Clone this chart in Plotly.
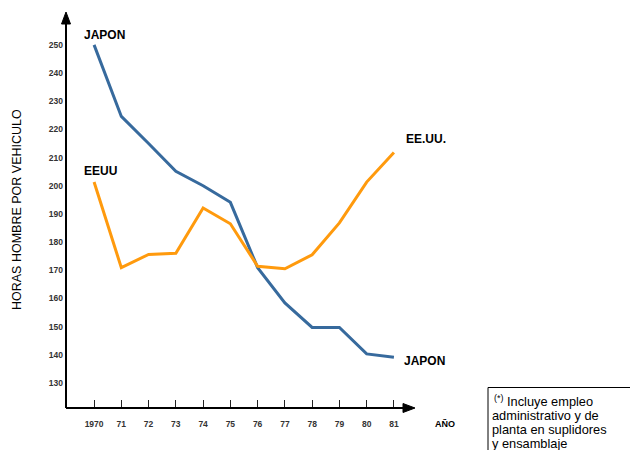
import plotly.graph_objects as go

years = [1970, 1971, 1972, 1973, 1974, 1975, 1976, 1977, 1978, 1979, 1980, 1981]
year_labels = ["1970", "71", "72", "73", "74", "75", "76", "77", "78", "79", "80", "81"]
japon = [250, 224.6, 215, 205.1, 200, 194.1, 170.9, 158.4, 149.7, 149.7, 140.3, 139.1]
eeuu = [201.3, 170.9, 175.6, 176, 192.1, 186.5, 171.4, 170.5, 175.5, 186.8, 201.3, 211.8]
y_ticks = [130, 140, 150, 160, 170, 180, 190, 200, 210, 220, 230, 240, 250]
note_lines = ["<sup>(*)</sup> Incluye empleo", "administrativo y de",
              "planta en suplidores", "y ensamblaje"]

FONT = "Liberation Sans, Arial, sans-serif"
X0, X1 = 1968.97, 1981.7
Y0, Y1 = 121.1, 260.6

# plot area geometry (pixels)
L, R, T, B = 66, 217, 15, 42
W, H = 630, 450
PW, PH = W - L - R, H - T - B


def px(x):
    return (x - L) / PW


def py(y):
    return 1 - (y - T) / PH


fig = go.Figure()
fig.add_trace(go.Scatter(x=years, y=japon, mode="lines", name="JAPON",
                         line=dict(color="#376a9d", width=3), showlegend=False))
fig.add_trace(go.Scatter(x=years, y=eeuu, mode="lines", name="EEUU",
                         line=dict(color="#ff9a0d", width=3), showlegend=False))

fig.update_layout(
    width=W, height=H,
    margin=dict(l=L, r=R, t=T, b=B),
    paper_bgcolor="white", plot_bgcolor="white",
    font=dict(family=FONT, color="black"),
    xaxis=dict(range=[X0, X1], tickvals=years,
               ticktext=[f"<b>{t}</b>" for t in year_labels],
               ticks="inside", ticklen=8, tickcolor="#222", tickwidth=1,
               ticklabelstandoff=9,
               showgrid=False, zeroline=False, showline=False,
               tickfont=dict(size=8.5, color="#333")),
    yaxis=dict(range=[Y0, Y1], tickvals=y_ticks,
               ticktext=[f"<b>{t}</b>" for t in y_ticks],
               ticks="", showgrid=False, zeroline=False, showline=False,
               ticklabelstandoff=2,
               tickfont=dict(size=8.5, color="#333")),
)

# axes lines with arrowheads (paper coordinates from pixel geometry)
fig.add_shape(type="line", xref="paper", yref="paper", x0=0, y0=0, x1=0, y1=py(22),
              line=dict(color="black", width=2))
fig.add_shape(type="line", xref="paper", yref="paper", x0=0, y0=0, x1=px(406), y1=0,
              line=dict(color="black", width=2))
fig.add_shape(type="path", xref="paper", yref="paper",
              path=f"M {px(61.5)} {py(24)} L {px(66)} {py(12)} L {px(70.5)} {py(24)} Z",
              fillcolor="black", line=dict(color="black", width=1))
fig.add_shape(type="path", xref="paper", yref="paper",
              path=f"M {px(403)} {py(403.5)} L {px(415)} {py(408)} L {px(403)} {py(412.5)} Z",
              fillcolor="black", line=dict(color="black", width=1))

lab = dict(size=12, color="black", family=FONT)
fig.add_annotation(x=years[0], y=japon[0], text="<b>JAPON</b>", showarrow=False,
                   xanchor="left", yanchor="bottom", xshift=-12, yshift=1, font=lab)
fig.add_annotation(x=years[0], y=eeuu[0], text="<b>EEUU</b>", showarrow=False,
                   xanchor="left", yanchor="bottom", xshift=-12, yshift=2, font=lab)
fig.add_annotation(x=years[-1], y=eeuu[-1], text="<b>EE.UU.</b>", showarrow=False,
                   xanchor="left", yanchor="middle", xshift=10, yshift=13, font=lab)
fig.add_annotation(x=years[-1], y=japon[-1], text="<b>JAPON</b>", showarrow=False,
                   xanchor="left", yanchor="middle", xshift=8, yshift=-4, font=lab)

fig.add_annotation(x=1, y=0, xref="paper", yref="paper", text="<b>AÑO</b>",
                   showarrow=False, xanchor="left", yanchor="middle",
                   xshift=20, yshift=-16, font=dict(size=9, color="black", family=FONT))

fig.add_annotation(x=px(17), y=py(210), xref="paper", yref="paper",
                   text="HORAS HOMBRE POR VEHICULO", textangle=-90, showarrow=False,
                   xanchor="center", yanchor="middle",
                   font=dict(size=12.5, color="black", family=FONT))

# note box
fig.add_shape(type="rect", xref="paper", yref="paper",
              x0=px(488), x1=px(660), y0=py(470), y1=py(387.5),
              line=dict(color="black", width=1), fillcolor="rgba(0,0,0,0)")
for i, t in enumerate(note_lines):
    fig.add_annotation(x=px(491 if i else 493), y=py(401 + 14 * i),
                       xref="paper", yref="paper", text=t, showarrow=False,
                       xanchor="left", yanchor="middle", borderpad=0,
                       font=dict(size=12.8, color="black", family=FONT))

fig.write_html("out.html", config={"displayModeBar": False},
               post_script="document.body.style.margin='0';")
